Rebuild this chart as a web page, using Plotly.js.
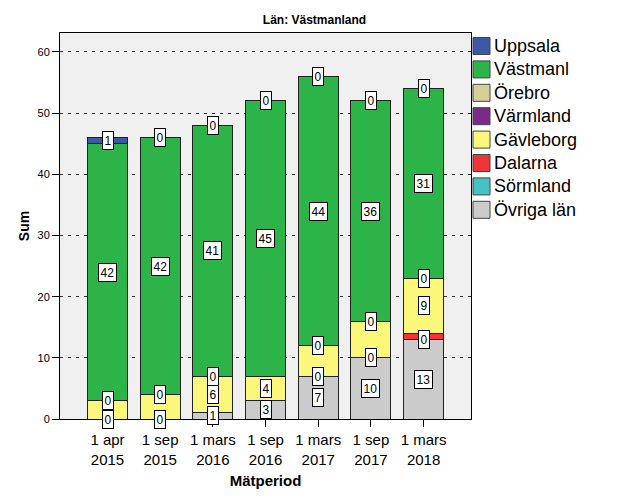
<!DOCTYPE html>
<html>
<head>
<meta charset="utf-8">
<script src="https://cdn.plot.ly/plotly-3.0.1.min.js"></script>
<style>html,body{margin:0;padding:0;background:#fff;}#chart{width:629px;height:504px;}</style>
</head>
<body>
<div id="chart"></div>
<script>
// ---- data ----
var categories = ["1 apr<br>2015", "1 sep<br>2015", "1 mars<br>2016", "1 sep<br>2016", "1 mars<br>2017", "1 sep<br>2017", "1 mars<br>2018"];
// series, bottom of stack first
var seriesNames = ["Övriga län", "Sörmland", "Dalarna", "Gävleborg", "Värmland", "Örebro", "Västmanl", "Uppsala"];
var ovriga    = [0, 0, 1, 3, 7, 10, 13];
var sormland  = [0, 0, 0, 0, 0, 0, 0];
var dalarna   = [0, 0, 0, 0, 0, 0, 1];
var gavleborg = [3, 4, 6, 4, 5, 6, 9];
var varmland  = [0, 0, 0, 0, 0, 0, 0];
var orebro    = [0, 0, 0, 0, 0, 0, 0];
var vastmanl  = [42, 42, 41, 45, 44, 36, 31];
var uppsala   = [1, 0, 0, 0, 0, 0, 0];
// which segment value labels are visible in the original (1 = shown)
var shownOvriga    = [1, 1, 1, 1, 1, 1, 1];
var shownSormland  = [0, 0, 0, 0, 1, 1, 1];
var shownDalarna   = [0, 0, 0, 0, 0, 0, 0];
var shownGavleborg = [0, 0, 1, 1, 0, 0, 1];
var shownVarmland  = [1, 1, 1, 0, 1, 1, 1];
var shownOrebro    = [0, 0, 0, 0, 0, 0, 0];
var shownVastmanl  = [1, 1, 1, 1, 1, 1, 1];
var shownUppsala   = [1, 1, 1, 1, 1, 1, 1];

var seriesValues = [ovriga, sormland, dalarna, gavleborg, varmland, orebro, vastmanl, uppsala];
var seriesShown = [shownOvriga, shownSormland, shownDalarna, shownGavleborg, shownVarmland, shownOrebro, shownVastmanl, shownUppsala];
var seriesColors = ["#CBCBCB", "#46C1C4", "#EE353A", "#FBF77A", "#7A2A88", "#D5CF98", "#2DB449", "#3C58A8"];

var FONT = "Liberation Sans, Arial, sans-serif";
var xIdx = categories.map(function (c, i) { return i; });

var traces = seriesNames.map(function (name, s) {
  return {
    type: "bar", name: name, x: xIdx, y: seriesValues[s], width: 0.76,
    marker: { color: seriesColors[s], line: { color: "#222", width: 1 } },
    showlegend: false, hoverinfo: "skip"
  };
});

// value labels, positioned from stacked values
var annotations = [];
for (var i = 0; i < categories.length; i++) {
  var base = 0;
  for (var s = 0; s < seriesNames.length; s++) {
    var v = seriesValues[s][i];
    if (seriesShown[s][i]) {
      annotations.push({
        x: i, y: base + v / 2, xref: "x", yref: "y", text: String(v), showarrow: false,
        font: { family: FONT, size: 12, color: "#000" },
        bgcolor: "#fff", bordercolor: "#000", borderwidth: 1, borderpad: 1.5
      });
    }
    base += v;
  }
}

// manual legend (top = last series)
var plotL = 60, plotR = 471, plotT = 33, plotB = 419;
function px(xp) { return (xp - plotL) / (plotR - plotL); }
function py(yp) { return (plotB - yp) / (plotB - plotT); }
var shapes = [];
for (var k = 0; k < seriesNames.length; k++) {
  var s2 = seriesNames.length - 1 - k;
  var cy = 46 + 23.4 * k;
  shapes.push({
    type: "rect", xref: "paper", yref: "paper",
    x0: px(473), x1: px(490), y0: py(cy + 8.5), y1: py(cy - 8.5),
    fillcolor: seriesColors[s2], line: { color: "#444", width: 1 }
  });
  annotations.push({
    xref: "paper", yref: "paper", x: px(492), y: py(cy), xanchor: "left", yanchor: "middle",
    text: seriesNames[s2], showarrow: false, font: { family: FONT, size: 18, color: "#000" }
  });
}

var layout = {
  width: 629, height: 504,
  margin: { l: 60, r: 158, t: 33, b: 85, autoexpand: false },
  paper_bgcolor: "#fff", plot_bgcolor: "#F0F0F0",
  barmode: "stack", bargap: 0,
  showlegend: false,
  font: { family: FONT, color: "#000" },
  title: { text: "<b>Län: Västmanland</b>", font: { family: FONT, size: 12, color: "#000" },
           x: 0.5, xref: "container", xanchor: "center", y: 1 - 20 / 504, yref: "container", yanchor: "middle" },
  xaxis: {
    range: [-0.902, 6.90], tickmode: "array", tickvals: xIdx, ticktext: categories,
    ticks: "outside", ticklen: 7, tickcolor: "#000", tickwidth: 1,
    showline: true, mirror: true, linecolor: "#000", linewidth: 1,
    showgrid: false, zeroline: false,
    tickfont: { family: FONT, size: 15, color: "#000" },
    title: { text: "<b>Mätperiod</b>", font: { family: FONT, size: 15, color: "#000" }, standoff: 8 }
  },
  yaxis: {
    range: [0, 63.1], tick0: 0, dtick: 10,
    ticks: "outside", ticklen: 7, tickcolor: "#000", tickwidth: 1,
    showline: true, mirror: true, linecolor: "#000", linewidth: 1,
    showgrid: true, gridcolor: "#333", gridwidth: 1, griddash: "3px,5px",
    zeroline: false,
    tickfont: { family: FONT, size: 11, color: "#000" },
    title: { text: "<b>Sum</b>", font: { family: FONT, size: 14, color: "#000" }, standoff: 4 }
  },
  annotations: annotations,
  shapes: shapes
};

Plotly.newPlot("chart", traces, layout, { displayModeBar: false, staticPlot: true });
</script>
</body>
</html>
